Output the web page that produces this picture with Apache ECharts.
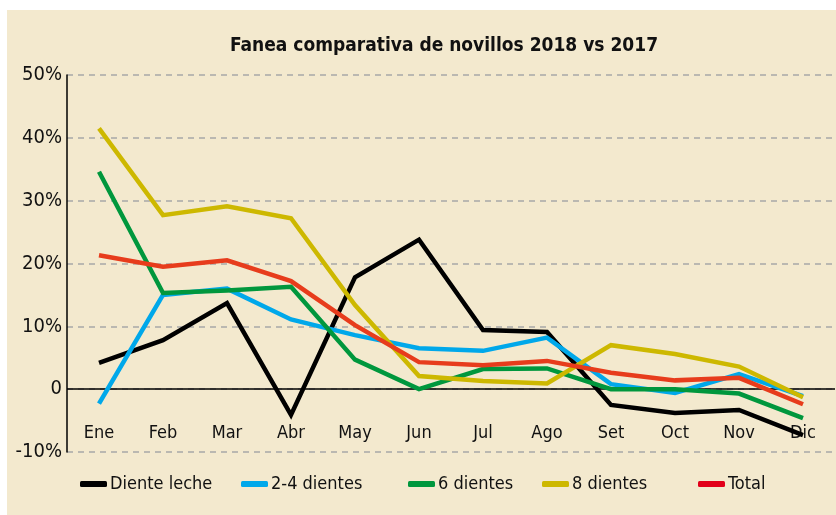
<!DOCTYPE html>
<html>
<head>
<meta charset="utf-8">
<script src="https://cdn.jsdelivr.net/npm/echarts@6/dist/echarts.min.js"></script>
<style>html,body{margin:0;padding:0;background:#fff;}#c{width:836px;height:515px;}</style>
</head>
<body>
<div id="c"></div>
<script>
const categories = ['Ene','Feb','Mar','Abr','May','Jun','Jul','Ago','Set','Oct','Nov','Dic'];
const dienteLeche = [4.2, 7.8, 13.7, -4.1, 17.8, 23.8, 9.4, 9.1, -2.5, -3.8, -3.3, -7.3];
const dientes24  = [-2.3, 15.0, 16.0, 11.1, 8.6, 6.5, 6.1, 8.2, 0.8, -0.6, 2.4, -1.1];
const dientes6   = [34.6, 15.3, 15.7, 16.3, 4.7, 0.0, 3.2, 3.3, 0.0, 0.0, -0.7, -4.6];
const dientes8   = [41.5, 27.7, 29.1, 27.2, 13.4, 2.1, 1.3, 0.9, 7.0, 5.6, 3.6, -1.3];
const total      = [21.3, 19.5, 20.5, 17.2, 10.2, 4.3, 3.8, 4.5, 2.6, 1.4, 1.8, -2.4];
const seriesNames = ['Diente leche', '2-4 dientes', '6 dientes', '8 dientes', 'Total'];
const yTicks = [-10, 0, 10, 20, 30, 40, 50];
const titleText = 'Fanea comparativa de novillos 2018 vs 2017';

const FONT = "'DejaVu Sans Condensed','Liberation Sans Narrow',sans-serif";
const colors = ['#000000', '#00A8EA', '#00973D', '#CDB800', '#E73C1C'];
const legendColors = ['#000000', '#00A8EA', '#00973D', '#CDB800', '#E2001A'];
const dataSets = [dienteLeche, dientes24, dientes6, dientes8, total];
const legendLeft = [75, 236, 403, 537, 693];

const chart = echarts.init(document.getElementById('c'));
chart.setOption({
  backgroundColor: '#ffffff',
  animation: false,
  graphic: [
    { type: 'rect', silent: true, z: -100, shape: { x: 7, y: 10, width: 829, height: 505 }, style: { fill: '#F3E9CE' } },
    { type: 'text', silent: true, x: 444, y: 46, style: { text: titleText, textAlign: 'center', textVerticalAlign: 'middle', font: "bold 19px " + FONT, fill: '#111' } }
  ],
  grid: { left: 67, right: 1, top: 75, bottom: 63, containLabel: false },
  legend: seriesNames.map((n, i) => ({
    data: [{ name: n, itemStyle: { color: legendColors[i] } }],
    left: legendLeft[i], top: 470,
    itemWidth: 27, itemHeight: 6, icon: 'roundRect',
    itemGap: 5,
    textStyle: { fontFamily: FONT, fontSize: 18, color: '#111', padding: [0,0,0,-2] }
  })),
  xAxis: {
    type: 'category', data: categories, boundaryGap: true, position: 'bottom',
    axisLine: { show: false, onZero: false },
    axisTick: { show: false },
    axisLabel: { inside: true, margin: 10, fontFamily: FONT, fontSize: 18, color: '#111' },
    splitLine: { show: false }
  },
  yAxis: {
    type: 'value', min: -10, max: 50, interval: 10,
    axisLine: { show: true, onZero: false, lineStyle: { color: '#000', width: 1.5 } },
    axisTick: { show: false },
    axisLabel: { margin: 5, fontFamily: FONT, fontSize: 20, color: '#111',
      formatter: v => yTicks.includes(v) ? (v === 0 ? '0' : v + '%') : '' },
    splitLine: { show: true, lineStyle: { color: '#A8A8A8', type: [6, 5], width: 1.5 } }
  },
  series: seriesNames.map((n, i) => ({
    name: n, type: 'line', data: dataSets[i], symbol: 'none',
    lineStyle: { color: colors[i], width: 4.5, cap: 'butt', join: 'miter' },
    itemStyle: { color: colors[i] },
    markLine: i === 0 ? {
      silent: true, symbol: 'none', label: { show: false }, z: 1,
      lineStyle: { color: '#000', width: 1.5, type: 'solid' },
      data: [{ yAxis: 0 }]
    } : undefined
  }))
});
</script>
</body>
</html>
